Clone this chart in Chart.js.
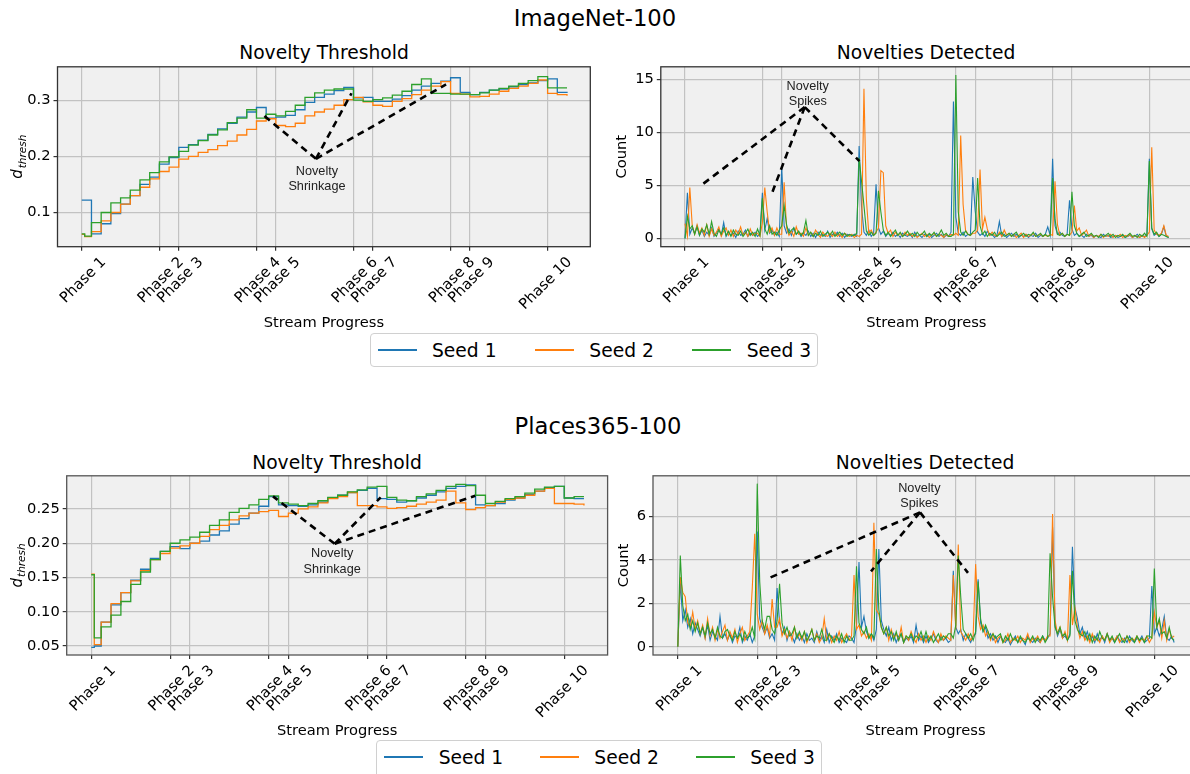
<!DOCTYPE html>
<html>
<head>
<meta charset="utf-8">
<script src="https://cdn.jsdelivr.net/npm/chart.js@4.4.1/dist/chart.umd.min.js"></script>
<style>
  body { margin: 0; width: 1190px; height: 774px; overflow: hidden; background: #fff; position: relative; font-family: "DejaVu Sans", sans-serif; }
  canvas { position: absolute; }
  .ttl { position: absolute; transform: translate(-50%, -50%); white-space: nowrap; color: #000; }
  .sup { font-size: 22.7px; }
  .sub { font-size: 18.7px; }
  .legend { position: absolute; background: #fff; border: 1px solid #d0d0d0; border-radius: 4px; box-sizing: border-box; }
  .legend .ln { position: absolute; height: 2px; width: 39px; top: 15px; }
  .legend .tx { position: absolute; top: 16px; transform: translateY(-50%); font-size: 18.7px; white-space: nowrap; }
</style>
</head>
<body>
<div class="ttl sup" style="left:595px;top:18px">ImageNet-100</div>
<div class="ttl sub" style="left:324px;top:52px">Novelty Threshold</div>
<div class="ttl sub" style="left:926px;top:52px">Novelties Detected</div>
<div class="ttl sup" style="left:598px;top:426px">Places365-100</div>
<div class="ttl sub" style="left:337px;top:462px">Novelty Threshold</div>
<div class="ttl sub" style="left:925px;top:462px">Novelties Detected</div>

<canvas id="cTL" width="600" height="295" style="left:0;top:55px"></canvas>
<canvas id="cTR" width="600" height="295" style="left:600px;top:55px"></canvas>
<canvas id="cBL" width="620" height="296" style="left:0;top:464px"></canvas>
<canvas id="cBR" width="620" height="296" style="left:600px;top:464px"></canvas>

<div class="legend" id="legTop" style="left:370px;top:333px;width:448px;height:34px"></div>
<div class="legend" id="legBottom" style="left:376px;top:740px;width:446px;height:40px"></div>

<script>
// ---- data ----
const seedNames = ['Seed 1', 'Seed 2', 'Seed 3'];
const seedColors = ['#1f77b4', '#ff7f0e', '#2ca02c'];

const phaseTicks = [0, 80, 100, 180, 200, 280, 300, 380, 400, 480];
const phaseLabels = ['Phase 1', 'Phase 2', 'Phase 3', 'Phase 4', 'Phase 5',
                     'Phase 6', 'Phase 7', 'Phase 8', 'Phase 9', 'Phase 10'];

// stream positions of the threshold samples
const threshX = [0, 3, 10, 20, 30, 40, 50, 60, 70, 80, 90, 100, 110, 120, 130, 140, 150,
  160, 170, 180, 190, 200, 210, 220, 230, 240, 250, 260, 270, 280, 290, 300, 310, 320,
  330, 340, 350, 360, 370, 380, 390, 400, 410, 420, 430, 440, 450, 460, 470, 480, 490, 500];

// stream positions of the count samples
const countX = [
  0, 2.5, 5, 7.5, 10, 12.5, 15, 17.5, 20, 22.5, 25, 27.5, 30, 32.5, 35, 37.5, 40, 42.5, 45, 47.5,
  50, 52.5, 55, 57.5, 60, 62.5, 65, 67.5, 70, 72.5, 75, 77.5, 80, 82.5, 85, 87.5, 90, 92.5, 95, 97.5,
  100, 102.5, 105, 107.5, 110, 112.5, 115, 117.5, 120, 122.5, 125, 127.5, 130, 132.5, 135, 137.5, 140, 142.5, 145, 147.5,
  150, 152.5, 155, 157.5, 160, 162.5, 165, 167.5, 170, 172.5, 175, 177.5, 180, 182.5, 185, 187.5, 190, 192.5, 195, 197.5,
  200, 202.5, 205, 207.5, 210, 212.5, 215, 217.5, 220, 222.5, 225, 227.5, 230, 232.5, 235, 237.5, 240, 242.5, 245, 247.5,
  250, 252.5, 255, 257.5, 260, 262.5, 265, 267.5, 270, 272.5, 275, 277.5, 280, 282.5, 285, 287.5, 290, 292.5, 295, 297.5,
  300, 302.5, 305, 307.5, 310, 312.5, 315, 317.5, 320, 322.5, 325, 327.5, 330, 332.5, 335, 337.5, 340, 342.5, 345, 347.5,
  350, 352.5, 355, 357.5, 360, 362.5, 365, 367.5, 370, 372.5, 375, 377.5, 380, 382.5, 385, 387.5, 390, 392.5, 395, 397.5,
  400, 402.5, 405, 407.5, 410, 412.5, 415, 417.5, 420, 422.5, 425, 427.5, 430, 432.5, 435, 437.5, 440, 442.5, 445, 447.5,
  450, 452.5, 455, 457.5, 460, 462.5, 465, 467.5, 470, 472.5, 475, 477.5, 480, 482.5, 485, 487.5, 490, 492.5, 495, 497.5,
  500];

// ImageNet-100, novelty threshold
const inThresh1 = [0.122, 0.122, 0.062, 0.080, 0.098, 0.115, 0.130, 0.150, 0.163, 0.186, 0.198,
  0.216, 0.221, 0.229, 0.239, 0.249, 0.259, 0.270, 0.279, 0.287, 0.268, 0.270, 0.273, 0.283,
  0.296, 0.305, 0.311, 0.317, 0.323, 0.304, 0.305, 0.298, 0.298, 0.302, 0.308, 0.318, 0.325,
  0.330, 0.334, 0.340, 0.314, 0.310, 0.314, 0.318, 0.320, 0.324, 0.328, 0.331, 0.335, 0.338,
  0.314, 0.313];
const inThresh2 = [0.061, 0.057, 0.066, 0.085, 0.100, 0.115, 0.130, 0.145, 0.160, 0.173, 0.181,
  0.195, 0.200, 0.207, 0.212, 0.219, 0.227, 0.238, 0.248, 0.263, 0.267, 0.255, 0.253, 0.259,
  0.272, 0.279, 0.284, 0.291, 0.301, 0.305, 0.297, 0.291, 0.289, 0.298, 0.303, 0.310, 0.318,
  0.325, 0.333, 0.312, 0.311, 0.306, 0.307, 0.311, 0.316, 0.321, 0.325, 0.330, 0.336, 0.312,
  0.310, 0.308];
const inThresh3 = [0.062, 0.058, 0.082, 0.100, 0.117, 0.126, 0.140, 0.158, 0.171, 0.190, 0.199,
  0.209, 0.220, 0.228, 0.238, 0.247, 0.260, 0.268, 0.283, 0.268, 0.275, 0.272, 0.280, 0.291,
  0.305, 0.313, 0.318, 0.320, 0.320, 0.300, 0.298, 0.301, 0.304, 0.309, 0.316, 0.328, 0.338,
  0.312, 0.312, 0.311, 0.311, 0.310, 0.313, 0.318, 0.321, 0.325, 0.330, 0.335, 0.342, 0.322,
  0.322, 0.322];
const inThreshTicks = [0.1, 0.2, 0.3];

// ImageNet-100, novelties detected
const inCount1 = [
  0.0, 4.3, 0.4, 1.0, 0.5, 1.2, 0.3, 0.8, 0.2, 0.6,
  0.3, 1.0, 0.2, 0.5, 0.9, 0.3, 1.5, 0.2, 0.6, 0.3,
  0.5, 0.1, 0.7, 0.3, 0.4, 0.8, 0.2, 0.5, 0.3, 0.6,
  0.2, 0.4, 4.3, 0.8, 1.9, 0.5, 0.8, 0.3, 0.6, 0.2,
  6.7, 1.2, 0.5, 0.9, 0.3, 1.0, 0.4, 0.6, 0.2, 0.5,
  0.3, 0.7, 0.2, 0.5, 0.1, 0.6, 0.3, 0.4, 0.2, 0.7,
  0.1, 0.4, 0.3, 0.6, 0.2, 0.5, 0.1, 0.4, 0.3, 0.2,
  0.4, 0.2, 8.7, 3.0, 0.6, 0.3, 0.8, 0.2, 0.5, 5.1,
  1.0, 0.4, 0.7, 0.2, 0.5, 0.3, 0.6, 0.2, 0.4, 0.1,
  0.5, 0.3, 0.2, 0.4, 0.1, 0.6, 0.2, 0.3, 0.1, 0.4,
  0.2, 0.4, 0.1, 0.3, 0.5, 0.2, 0.4, 0.1, 0.3, 0.2,
  0.6, 12.9, 2.0, 0.5, 0.3, 0.6, 0.2, 0.4, 0.3, 5.8,
  2.6, 0.6, 0.3, 0.5, 0.2, 0.7, 0.3, 0.4, 0.1, 0.3,
  1.6, 0.2, 0.4, 0.1, 0.3, 0.5, 0.2, 0.4, 0.1, 0.3,
  0.2, 0.4, 0.1, 0.3, 0.2, 0.5, 0.1, 0.3, 0.2, 0.4,
  1.1, 0.3, 7.5, 1.2, 0.4, 0.6, 0.3, 0.2, 0.4, 3.6,
  0.9, 0.3, 0.5, 0.2, 0.3, 0.1, 0.4, 0.2, 0.3, 0.1,
  0.3, 0.2, 0.1, 0.4, 0.2, 0.3, 0.1, 0.2, 0.3, 0.1,
  0.2, 0.3, 0.1, 0.2, 0.3, 0.1, 0.2, 0.4, 0.1, 0.3,
  0.2, 0.3, 7.5, 0.9, 0.3, 0.5, 0.2, 0.4, 1.1, 0.2,
  0.1];
const inCount2 = [
  1.4, 0.2, 4.8, 1.2, 0.4, 1.3, 0.5, 1.0, 0.3, 1.3,
  0.2, 0.9, 0.3, 0.6, 1.1, 0.2, 0.7, 1.0, 0.3, 0.8,
  0.2, 0.8, 0.4, 1.1, 0.3, 0.6, 0.2, 0.9, 0.3, 0.5,
  0.5, 0.2, 1.5, 4.8, 2.5, 0.6, 1.0, 0.3, 1.0, 0.4,
  0.4, 5.3, 1.0, 0.3, 0.7, 0.2, 1.1, 0.4, 0.5, 0.2,
  1.0, 0.3, 0.6, 0.2, 0.8, 0.4, 0.1, 0.6, 0.3, 0.2,
  0.5, 0.2, 0.6, 0.2, 0.4, 0.1, 0.5, 0.3, 0.2, 0.4,
  0.1, 0.3, 0.2, 0.4, 14.1, 3.7, 0.5, 0.8, 0.3, 0.6,
  1.0, 6.4, 6.2, 1.2, 0.5, 0.8, 0.2, 0.6, 0.3, 0.5,
  0.2, 0.6, 0.3, 0.5, 0.2, 0.4, 0.1, 0.3, 0.5, 0.2,
  0.4, 0.1, 0.3, 0.5, 0.2, 0.4, 0.3, 0.1, 0.4, 0.2,
  0.4, 0.3, 0.5, 0.3, 9.7, 3.2, 0.8, 0.4, 0.3, 0.5,
  0.5, 0.8, 6.5, 0.9, 2.0, 0.9, 0.3, 0.6, 0.3, 0.2,
  0.6, 0.2, 0.8, 0.3, 0.5, 0.2, 0.4, 0.1, 0.3, 0.5,
  0.1, 0.4, 0.2, 0.3, 0.5, 0.2, 0.3, 0.4, 0.2, 0.3,
  0.2, 0.4, 0.3, 5.4, 1.3, 0.3, 0.5, 0.2, 0.4, 0.3,
  0.6, 3.1, 0.7, 1.0, 0.3, 0.5, 0.8, 0.2, 0.4, 0.1,
  0.3, 0.2, 0.4, 0.1, 0.3, 0.2, 0.4, 0.1, 0.3, 0.2,
  0.4, 0.1, 0.3, 0.2, 0.4, 0.1, 0.3, 0.2, 0.1, 0.3,
  0.1, 0.3, 0.6, 8.6, 0.8, 0.4, 0.3, 0.5, 1.2, 0.3,
  0.2];
const inCount3 = [
  0.0, 2.1, 0.9, 1.2, 0.4, 1.1, 0.3, 0.9, 0.6, 1.3,
  0.4, 1.6, 0.5, 0.2, 0.8, 0.4, 1.0, 0.3, 0.7, 0.2,
  0.8, 0.4, 0.3, 0.7, 0.2, 0.5, 0.9, 0.3, 0.6, 0.2,
  0.9, 0.3, 3.8, 0.9, 0.4, 1.2, 0.4, 0.6, 0.3, 0.8,
  1.2, 3.1, 1.3, 0.5, 0.8, 1.0, 0.4, 0.7, 0.3, 0.6,
  1.7, 0.3, 0.6, 0.2, 0.5, 0.3, 0.7, 0.2, 0.4, 0.6,
  0.3, 0.7, 0.2, 0.4, 0.6, 0.3, 0.5, 0.2, 0.4, 0.3,
  0.3, 0.5, 7.6, 5.4, 3.1, 0.7, 0.3, 0.6, 0.3, 0.5,
  4.5, 2.5, 0.8, 0.3, 0.6, 0.2, 0.5, 0.8, 0.3, 0.6,
  0.2, 0.4, 0.7, 0.3, 0.5, 0.2, 0.6, 0.3, 0.4, 0.7,
  0.2, 0.5, 0.3, 0.6, 0.2, 0.4, 0.8, 0.3, 0.5, 0.2,
  0.2, 0.4, 15.4, 2.5, 0.6, 0.3, 0.7, 0.4, 0.3, 0.6,
  0.8, 5.7, 1.2, 0.4, 0.7, 0.2, 0.5, 0.3, 0.6, 0.2,
  0.4, 0.6, 0.2, 0.3, 0.5, 0.2, 0.4, 0.6, 0.2, 0.3,
  0.5, 0.2, 0.4, 0.3, 0.6, 0.2, 0.3, 0.5, 0.2, 0.4,
  0.2, 0.3, 5.7, 1.8, 0.4, 0.3, 0.5, 0.2, 0.4, 0.3,
  4.4, 1.2, 0.5, 0.2, 0.4, 0.6, 0.2, 0.3, 0.5, 0.2,
  0.3, 0.1, 0.4, 0.2, 0.3, 0.5, 0.2, 0.4, 0.1, 0.3,
  0.2, 0.4, 0.1, 0.3, 0.5, 0.2, 0.3, 0.1, 0.4, 0.2,
  0.5, 0.2, 7.3, 1.0, 0.4, 0.6, 0.2, 0.4, 0.3, 0.2,
  0.1];
const inCountTicks = [0, 5, 10, 15];

// Places365-100, novelty threshold
const plThresh1 = [0.048, 0.050, 0.085, 0.110, 0.128, 0.146, 0.162, 0.178, 0.188, 0.195, 0.192,
  0.200, 0.203, 0.212, 0.218, 0.228, 0.236, 0.244, 0.254, 0.268, 0.256, 0.255, 0.254, 0.256,
  0.260, 0.266, 0.270, 0.274, 0.277, 0.280, 0.265, 0.264, 0.260, 0.262, 0.266, 0.270, 0.275,
  0.280, 0.283, 0.285, 0.256, 0.255, 0.258, 0.263, 0.266, 0.271, 0.276, 0.281, 0.283, 0.266,
  0.265, 0.265];
const plThresh2 = [0.155, 0.052, 0.085, 0.112, 0.128, 0.145, 0.160, 0.176, 0.185, 0.193, 0.196,
  0.200, 0.210, 0.220, 0.226, 0.234, 0.240, 0.244, 0.246, 0.248, 0.239, 0.244, 0.250, 0.253,
  0.259, 0.265, 0.268, 0.274, 0.255, 0.255, 0.253, 0.251, 0.252, 0.254, 0.257, 0.260, 0.263,
  0.276, 0.259, 0.249, 0.252, 0.255, 0.260, 0.264, 0.266, 0.270, 0.276, 0.280, 0.258, 0.258,
  0.257, 0.255];
const plThresh3 = [0.154, 0.062, 0.078, 0.095, 0.115, 0.140, 0.158, 0.176, 0.188, 0.200, 0.205,
  0.209, 0.216, 0.226, 0.234, 0.245, 0.251, 0.256, 0.264, 0.269, 0.259, 0.257, 0.255, 0.258,
  0.262, 0.267, 0.270, 0.275, 0.278, 0.282, 0.283, 0.267, 0.263, 0.262, 0.268, 0.272, 0.277,
  0.283, 0.286, 0.284, 0.270, 0.258, 0.261, 0.265, 0.268, 0.273, 0.279, 0.282, 0.283, 0.266,
  0.268, 0.268];
const plThreshTicks = [0.05, 0.10, 0.15, 0.20, 0.25];

// Places365-100, novelties detected
const plCount1 = [
  0.0, 3.0, 1.2, 1.7, 0.9, 1.3, 0.6, 1.1, 0.8, 0.5,
  0.9, 0.4, 1.0, 0.3, 0.7, 0.5, 0.3, 1.4, 0.4, 0.6,
  0.3, 0.6, 0.2, 0.5, 0.4, 0.9, 0.2, 0.5, 0.3, 0.6,
  0.2, 0.5, 5.3, 1.3, 0.9, 0.6, 0.9, 0.4, 0.6, 0.3,
  2.7, 1.1, 0.6, 0.9, 0.3, 0.7, 0.5, 0.2, 0.6, 0.3,
  0.5, 0.2, 0.6, 0.3, 0.4, 0.2, 0.7, 0.3, 0.5, 0.2,
  0.8, 0.2, 0.5, 0.3, 0.6, 0.2, 0.4, 0.3, 0.2, 0.5,
  0.4, 0.2, 1.0, 3.9, 0.9, 1.4, 0.7, 0.4, 0.6, 0.3,
  0.8, 4.5, 1.2, 0.8, 0.5, 0.9, 0.3, 0.6, 0.2, 0.5,
  0.6, 0.2, 0.4, 0.3, 0.5, 0.2, 1.0, 0.3, 0.5, 0.2,
  0.5, 0.2, 0.4, 0.6, 0.3, 0.2, 0.5, 0.3, 0.4, 0.2,
  0.3, 3.5, 0.9, 0.6, 0.8, 0.3, 0.6, 0.4, 0.2, 0.5,
  0.6, 3.1, 1.1, 0.7, 0.9, 0.4, 0.6, 0.3, 0.5, 0.2,
  0.5, 0.3, 0.2, 0.4, 0.1, 0.3, 0.5, 0.2, 0.4, 0.3,
  0.1, 0.5, 0.3, 0.2, 0.4, 0.3, 0.2, 0.5, 0.3, 0.4,
  0.6, 5.5, 1.0, 0.5, 0.8, 0.4, 0.5, 0.3, 0.6, 4.6,
  1.8, 1.3, 0.6, 0.9, 0.4, 0.7, 0.3, 0.5, 0.2, 0.6,
  0.3, 0.5, 0.2, 0.6, 0.3, 0.4, 0.2, 0.5, 0.3, 0.2,
  0.4, 0.2, 0.5, 0.3, 0.2, 0.4, 0.3, 0.5, 0.2, 0.3,
  0.4, 2.8, 0.6, 0.9, 0.5, 0.8, 1.4, 0.4, 0.3, 0.5,
  0.2];
const plCount2 = [
  0.0, 3.2, 2.5, 2.3, 1.1, 0.9, 1.6, 0.8, 1.2, 0.6,
  1.0, 0.4, 1.3, 0.5, 0.9, 0.3, 0.8, 0.4, 0.7, 1.0,
  0.3, 0.7, 0.4, 0.8, 0.2, 0.6, 0.9, 0.3, 0.5, 0.7,
  2.7, 5.2, 1.5, 0.8, 1.2, 0.6, 1.0, 0.5, 2.2, 0.9,
  0.9, 1.3, 0.5, 0.8, 0.4, 0.7, 0.3, 0.9, 0.4, 0.6,
  0.3, 0.7, 0.2, 0.5, 0.8, 0.3, 0.6, 0.2, 0.4, 1.3,
  0.3, 0.6, 0.2, 0.5, 0.3, 0.7, 0.2, 0.4, 0.6, 0.3,
  0.5, 3.3, 0.8, 1.0, 0.5, 0.7, 0.4, 0.6, 0.3, 5.7,
  1.7, 1.5, 0.9, 0.6, 0.9, 0.3, 0.8, 0.4, 0.6, 0.3,
  0.9, 0.2, 0.5, 0.3, 0.7, 0.4, 0.2, 0.6, 0.3, 0.5,
  0.2, 0.5, 0.3, 0.7, 0.4, 0.2, 0.6, 0.3, 0.5, 0.4,
  0.3, 3.3, 0.8, 4.7, 0.7, 0.5, 0.3, 0.6, 0.3, 0.5,
  3.8, 1.4, 0.8, 1.0, 0.5, 0.7, 0.3, 0.6, 0.2, 0.4,
  0.5, 0.2, 0.3, 0.6, 0.2, 0.4, 0.3, 0.5, 0.2, 0.4,
  0.3, 0.6, 0.2, 0.4, 0.3, 0.5, 0.2, 0.4, 0.3, 0.5,
  0.5, 6.1, 1.2, 0.6, 0.9, 0.4, 0.7, 0.3, 3.3, 1.0,
  1.8, 0.9, 0.4, 0.7, 0.3, 0.5, 0.2, 0.6, 0.3, 0.4,
  0.2, 0.5, 0.3, 0.6, 0.2, 0.4, 0.3, 0.5, 0.2, 0.4,
  0.3, 0.5, 0.2, 0.4, 0.3, 0.5, 0.2, 0.4, 0.3, 0.5,
  0.2, 0.4, 1.6, 0.9, 1.2, 0.4, 1.2, 0.3, 0.8, 0.4,
  0.5];
const plCount3 = [
  0.0, 4.2, 1.9, 1.2, 1.5, 0.8, 1.2, 0.7, 1.1, 0.6,
  0.9, 0.5, 1.1, 0.6, 0.8, 0.4, 0.9, 0.5, 0.4, 0.7,
  0.8, 0.5, 0.3, 0.7, 0.4, 0.6, 0.3, 0.7, 0.4, 0.5,
  0.9, 0.4, 7.5, 3.0, 1.2, 0.8, 1.4, 1.4, 0.8, 0.6,
  1.2, 2.9, 1.1, 0.6, 0.9, 0.5, 0.6, 0.9, 0.4, 0.7,
  0.4, 0.7, 0.3, 0.5, 0.8, 0.3, 0.5, 0.4, 0.8, 0.3,
  0.3, 0.6, 0.4, 0.2, 0.5, 0.3, 0.6, 0.2, 0.5, 0.3,
  0.3, 0.5, 3.7, 1.1, 0.8, 0.6, 0.9, 0.4, 0.6, 0.4,
  4.5, 1.7, 0.9, 0.6, 0.9, 0.5, 0.7, 0.3, 0.7, 0.3,
  0.6, 0.2, 0.5, 0.4, 0.6, 0.3, 0.5, 0.4, 0.7, 0.3,
  0.7, 0.3, 0.5, 0.2, 0.4, 0.6, 0.3, 0.5, 0.4, 0.6,
  0.6, 0.4, 1.0, 4.2, 2.3, 0.8, 0.6, 0.4, 0.6, 0.3,
  0.7, 3.0, 1.3, 0.7, 1.0, 0.7, 0.4, 0.6, 0.4, 0.5,
  0.6, 0.2, 0.5, 0.3, 0.6, 0.3, 0.4, 0.2, 0.5, 0.3,
  0.2, 0.4, 0.3, 0.5, 0.2, 0.4, 0.3, 0.5, 0.2, 0.4,
  4.3, 2.3, 0.9, 0.6, 0.9, 0.5, 0.6, 0.3, 0.5, 3.5,
  1.2, 0.8, 0.6, 0.5, 0.7, 0.3, 0.6, 0.2, 0.5, 0.3,
  0.7, 0.4, 0.3, 0.6, 0.3, 0.5, 0.2, 0.4, 0.6, 0.3,
  0.2, 0.5, 0.3, 0.4, 0.2, 0.5, 0.3, 0.4, 0.2, 0.5,
  0.5, 0.4, 3.6, 0.9, 1.3, 0.6, 0.7, 0.4, 0.9, 0.4,
  0.3];
const plCountTicks = [0, 2, 4, 6];

// ---- drawing helpers ----
const FONT = "'DejaVu Sans', sans-serif";
Chart.defaults.font.family = FONT;
Chart.defaults.color = '#000';

// grey axes background + full frame, like the matplotlib style
function axesFrame(frameColor) {
  return {
    id: 'axesFrame',
    beforeDraw(chart) {
      const a = chart.chartArea, ctx = chart.ctx;
      ctx.save();
      ctx.fillStyle = '#f0f0f0';
      ctx.fillRect(a.left, a.top, a.right - a.left, a.bottom - a.top);
      ctx.restore();
    },
    afterDraw(chart) {
      const a = chart.chartArea, ctx = chart.ctx;
      ctx.save();
      ctx.strokeStyle = frameColor;
      ctx.lineWidth = 1.3;
      ctx.strokeRect(a.left, a.top, a.right - a.left, a.bottom - a.top);
      ctx.restore();
    }
  };
}

// dashed callout lines with the little two-line label
function noteArrows(note) {
  return {
    id: 'noteArrows',
    afterDatasetsDraw(chart) {
      const ctx = chart.ctx, sx = chart.scales.x, sy = chart.scales.y;
      const ax = sx.getPixelForValue(note.apex[0]);
      const ay = sy.getPixelForValue(note.apex[1]);
      ctx.save();
      ctx.strokeStyle = '#000';
      ctx.lineWidth = 2.6;
      ctx.setLineDash([7, 5]);
      note.targets.forEach(t => {
        ctx.beginPath();
        ctx.moveTo(ax, ay);
        ctx.lineTo(sx.getPixelForValue(t[0]), sy.getPixelForValue(t[1]));
        ctx.stroke();
      });
      ctx.setLineDash([]);
      ctx.fillStyle = '#222';
      ctx.font = '12.7px "Liberation Sans", Arial, sans-serif';
      ctx.textAlign = 'center';
      ctx.textBaseline = 'middle';
      note.lines.forEach((s, i) => ctx.fillText(s, ax + note.dx, ay + note.dy[i]));
      ctx.restore();
    }
  };
}

// y label d_thresh with italic subscript
function mathYTitle(cx) {
  return {
    id: 'mathYTitle',
    afterDraw(chart) {
      const ctx = chart.ctx, a = chart.chartArea;
      const fMain = 'italic 15px "DejaVu Sans"', fSub = 'italic 10.5px "DejaVu Sans"';
      ctx.save();
      ctx.translate(cx, (a.top + a.bottom) / 2);
      ctx.rotate(-Math.PI / 2);
      ctx.fillStyle = '#000';
      ctx.textBaseline = 'alphabetic';
      ctx.font = fMain;
      const wd = ctx.measureText('d').width;
      ctx.font = fSub;
      const ws = ctx.measureText('thresh').width;
      const x0 = -(wd + ws + 1) / 2;
      ctx.font = fMain;
      ctx.fillText('d', x0, 5.5);
      ctx.font = fSub;
      ctx.fillText('thresh', x0 + wd + 1, 9);
      ctx.restore();
    }
  };
}

function makePanel(id, o) {
  const datasets = o.series.map((ys, i) => ({
    label: seedNames[i],
    data: o.xs.map((x, j) => ({ x: x, y: ys[j] })),
    borderColor: seedColors[i],
    backgroundColor: seedColors[i],
    borderWidth: o.lineWidth,
    pointRadius: 0,
    tension: 0,
    stepped: o.stepped,
    order: 3 - i
  }));
  const plugins = [axesFrame(o.frameColor), noteArrows(o.note)];
  if (o.mathX) plugins.push(mathYTitle(o.mathX));
  const gridStyle = { color: '#c2c2c2', lineWidth: 1.2, tickLength: 4, tickColor: '#333', drawTicks: true };
  return new Chart(document.getElementById(id), {
    type: 'line',
    data: { datasets: datasets },
    options: {
      responsive: false,
      animation: false,
      devicePixelRatio: 1,
      events: [],
      layout: { autoPadding: false, padding: o.pad },
      plugins: { legend: { display: false }, tooltip: { enabled: false } },
      scales: {
        x: {
          type: 'linear',
          min: -25,
          max: 524,
          afterBuildTicks: s => { s.ticks = phaseTicks.map(v => ({ value: v })); },
          afterFit: s => { s.height = o.xH; },
          ticks: {
            autoSkip: false,
            minRotation: 45,
            maxRotation: 45,
            labelOffset: 22,
            padding: 3,
            color: '#000',
            font: { family: FONT, size: 14.67 },
            callback: (v, i) => phaseLabels[i]
          },
          grid: gridStyle,
          border: { display: false },
          title: {
            display: true,
            text: 'Stream Progress',
            color: '#000',
            font: { family: FONT, size: 14.67 },
            padding: { top: 0, bottom: o.xTitlePad }
          }
        },
        y: {
          type: 'linear',
          min: o.yMin,
          max: o.yMax,
          afterBuildTicks: s => { s.ticks = o.yTicks.map(v => ({ value: v })); },
          afterFit: s => { s.width = o.yW; },
          ticks: {
            padding: 3,
            color: '#000',
            font: { family: FONT, size: 14.67 },
            callback: v => v.toFixed(o.dec)
          },
          grid: gridStyle,
          border: { display: false },
          title: {
            display: !!o.yTitle,
            text: o.yTitle || '',
            color: '#000',
            font: { family: FONT, size: 14.67 },
            padding: { top: o.yTitlePad || 0, bottom: 0 }
          }
        }
      }
    },
    plugins: plugins
  });
}

// ---- panels ----
makePanel('cTL', {
  xs: threshX, series: [inThresh1, inThresh2, inThresh3], stepped: true, lineWidth: 1.3,
  pad: { left: 0, top: 0, right: 9.7, bottom: 0 }, yW: 57.5, xH: 103.3,
  yMin: 0.0391, yMax: 0.3595, yTicks: inThreshTicks, dec: 1,
  xTitlePad: 17.9, mathX: 16.5, frameColor: '#333',
  note: { apex: [241.3, 0.1956], targets: [[188, 0.2722], [277.9, 0.3124], [375.4, 0.3283]],
          lines: ['Novelty', 'Shrinkage'], dx: 1, dy: [12.5, 27.5] }
});

makePanel('cTR', {
  xs: countX, series: [inCount1, inCount2, inCount3], stepped: false, lineWidth: 1.1,
  pad: { left: 0, top: 0, right: 8.1, bottom: 0 }, yW: 60.8, xH: 103.3,
  yMin: -0.77, yMax: 16.17, yTicks: inCountTicks, dec: 0,
  xTitlePad: 17.9, yTitle: 'Count', yTitlePad: 13.5, frameColor: '#333',
  note: { apex: [123.8, 12.38], targets: [[16.1, 4.97], [90.5, 4.41], [180.3, 7.29]],
          lines: ['Novelty', 'Spikes'], dx: 3, dy: [-21, -6] }
});

makePanel('cBL', {
  xs: threshX, series: [plThresh1, plThresh2, plThresh3], stepped: true, lineWidth: 1.3,
  pad: { left: 0, top: 0, right: 12.4, bottom: 0 }, yW: 66.7, xH: 105,
  yMin: 0.0369, yMax: 0.2984, yTicks: plThreshTicks, dec: 2,
  xTitlePad: 20.2, mathX: 16, frameColor: '#555',
  note: { apex: [247, 0.1992], targets: [[184.4, 0.2684], [293.7, 0.267], [389.7, 0.2694]],
          lines: ['Novelty', 'Shrinkage'], dx: -2.5, dy: [10, 25.4] }
});

makePanel('cBR', {
  xs: countX, series: [plCount1, plCount2, plCount3], stepped: false, lineWidth: 1.1,
  pad: { left: 0, top: 0, right: 22, bottom: 0 }, yW: 53, xH: 105,
  yMin: -0.375, yMax: 7.86, yTicks: plCountTicks, dec: 0,
  xTitlePad: 20.2, yTitle: 'Count', yTitlePad: 15.7, frameColor: '#555',
  note: { apex: [244, 6.18], targets: [[93.4, 3.19], [194.6, 3.47], [292.3, 3.40]],
          lines: ['Novelty', 'Spikes'], dx: -0.7, dy: [-24, -9] }
});

// ---- figure legends ----
function buildLegend(id, lineLefts, textLefts) {
  const box = document.getElementById(id);
  seedNames.forEach((name, i) => {
    const ln = document.createElement('div');
    ln.className = 'ln';
    ln.style.left = lineLefts[i] + 'px';
    ln.style.background = seedColors[i];
    box.appendChild(ln);
    const tx = document.createElement('div');
    tx.className = 'tx';
    tx.style.left = textLefts[i] + 'px';
    tx.textContent = name;
    box.appendChild(tx);
  });
}
buildLegend('legTop', [6.7, 164, 321], [61, 218.3, 375.7]);
buildLegend('legBottom', [7.3, 163.3, 319], [61.7, 217.3, 373.3]);
</script>
</body>
</html>
